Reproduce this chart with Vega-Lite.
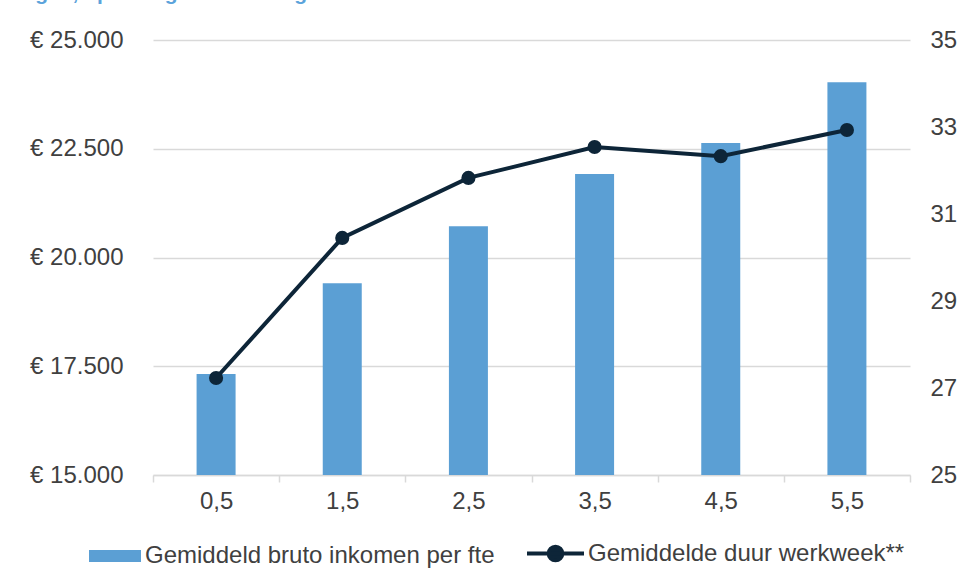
{
  "$schema": "https://vega.github.io/schema/vega-lite/v6.json",
  "width": 757,
  "height": 435,
  "autosize": {"type": "none"},
  "padding": {"left": 153, "top": 40, "right": 53, "bottom": 110},
  "background": "#ffffff",
  "title": {
    "text": "slagen, opleiding Mediavormgever",
    "anchor": "start",
    "frame": "group",
    "dx": -147,
    "dy": 16,
    "offset": 23,
    "baseline": "alphabetic",
    "font": "Liberation Sans",
    "fontSize": 21,
    "fontWeight": "bold",
    "color": "#5BA3DB"
  },
  "data": {
    "values": [
      {"x": 0.5, "inkomen": 17320, "duur": 27.23},
      {"x": 1.5, "inkomen": 19410, "duur": 30.45},
      {"x": 2.5, "inkomen": 20720, "duur": 31.83},
      {"x": 3.5, "inkomen": 21920, "duur": 32.54},
      {"x": 4.5, "inkomen": 22630, "duur": 32.33},
      {"x": 5.5, "inkomen": 24030, "duur": 32.93}
    ]
  },
  "layer": [
    {
      "mark": {"type": "bar", "size": 39},
      "encoding": {
        "x": {
          "field": "x", "type": "quantitative",
          "scale": {"domain": [0, 6], "nice": false, "zero": false, "padding": 0},
          "axis": {
            "title": null,
            "values": [0, 0.5, 1, 1.5, 2, 2.5, 3, 3.5, 4, 4.5, 5, 5.5, 6],
            "grid": false,
            "domainColor": "#d9d9d9",
            "domainWidth": 1.5,
            "tickColor": "#d9d9d9",
            "tickWidth": 1.5,
            "tickSize": 7,
            "tickOpacity": {"condition": {"test": "datum.value % 1 == 0", "value": 1}, "value": 0},
            "labelExpr": "datum.value % 1 == 0 ? '' : replace(format(datum.value, '.1f'), '.', ',')",
            "labelFont": "Liberation Sans",
            "labelFontSize": 24,
            "labelColor": "#404040",
            "labelPadding": 7,
            "labelFlush": false,
            "labelOverlap": false
          }
        },
        "y": {
          "field": "inkomen", "type": "quantitative",
          "scale": {"domain": [15000, 25000], "nice": false, "zero": false},
          "axis": {
            "title": null,
            "values": [15000, 17500, 20000, 22500, 25000],
            "orient": "left",
            "domain": false,
            "ticks": false,
            "grid": true,
            "gridColor": "#d9d9d9",
            "gridWidth": 1.5,
            "labelExpr": "'€ ' + replace(format(datum.value, ',.0f'), ',', '.')",
            "labelFont": "Liberation Sans",
            "labelFontSize": 24,
            "labelColor": "#404040",
            "labelPadding": 30
          }
        },
        "y2": {"datum": 15000},
        "fill": {
          "datum": "Gemiddeld bruto inkomen per fte",
          "scale": {"range": ["#5B9FD4"]},
          "legend": {
            "title": null,
            "orient": "none",
            "legendX": -64,
            "legendY": 490,
            "direction": "horizontal",
            "symbolType": "M-1,-0.23L1,-0.23L1,0.23L-1,0.23Z",
            "symbolSize": 2704,
            "symbolStrokeWidth": 0,
            "labelFont": "Liberation Sans",
            "labelFontSize": 24,
            "labelColor": "#404040",
            "labelOffset": 4,
            "labelLimit": 500
          }
        }
      }
    },
    {
      "layer": [
        {
          "mark": {"type": "line", "strokeWidth": 4},
          "encoding": {
            "x": {"field": "x", "type": "quantitative"},
            "y": {
              "field": "duur", "type": "quantitative",
              "scale": {"domain": [25, 35], "nice": false, "zero": false},
              "axis": {
                "title": null,
                "orient": "right",
                "values": [25, 27, 29, 31, 33, 35],
                "domain": false,
                "ticks": false,
                "grid": false,
                "labelFont": "Liberation Sans",
                "labelFontSize": 24,
                "labelColor": "#404040",
                "labelPadding": 20
              }
            },
            "stroke": {
              "datum": "Gemiddelde duur werkweek**",
              "scale": {"range": ["#0D2538"]},
              "legend": {
                "title": null,
                "orient": "none",
                "legendX": 372,
                "legendY": 483,
                "direction": "horizontal",
                "symbolType": "M-1,0L1,0M-0.24,0A0.24,0.24,0,1,1,0.24,0A0.24,0.24,0,1,1,-0.24,0",
                "symbolSize": 3249,
                "symbolStrokeWidth": 4,
                "symbolFillColor": "#0D2538",
                "labelFont": "Liberation Sans",
                "labelFontSize": 24,
                "labelColor": "#404040",
                "labelOffset": 2,
                "labelLimit": 500
              }
            }
          }
        },
        {
          "mark": {"type": "point", "filled": true, "size": 200, "color": "#0D2538", "opacity": 1},
          "encoding": {
            "x": {"field": "x", "type": "quantitative"},
            "y": {"field": "duur", "type": "quantitative"}
          }
        }
      ]
    }
  ],
  "resolve": {"scale": {"y": "independent", "fill": "independent", "stroke": "independent"}},
  "config": {
    "view": {"stroke": null}
  }
}
